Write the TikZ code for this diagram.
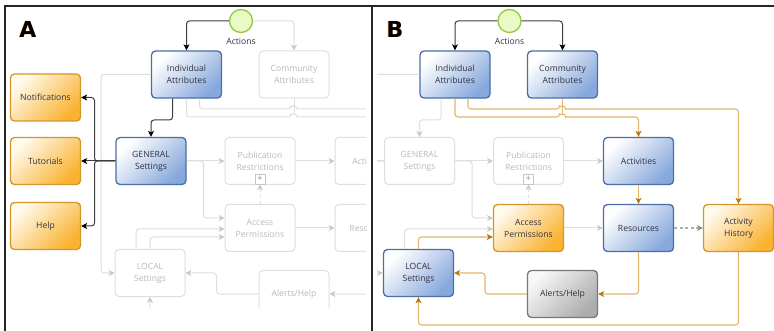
\documentclass[tikz,border=0pt]{standalone}
\usepackage{fontspec}
\setmainfont{Open Sans}
\newfontfamily\labelfont{DejaVu Sans}
\usetikzlibrary{arrows.meta}
\definecolor{bluebd}{RGB}{74,110,165}
\definecolor{bluefl}{RGB}{135,168,220}
\definecolor{orbd}{RGB}{212,150,42}
\definecolor{orfl}{RGB}{250,178,48}
\definecolor{orfltop}{RGB}{255,250,236}
\definecolor{graybd}{RGB}{120,120,120}
\definecolor{grayfl}{RGB}{172,172,172}
\definecolor{fadebd}{RGB}{222,222,222}
\definecolor{fadetip}{RGB}{200,200,200}
\definecolor{fadetx}{RGB}{185,185,185}
\definecolor{orline}{RGB}{226,182,108}
\definecolor{ortip}{RGB}{182,122,20}
\definecolor{blkline}{RGB}{60,60,60}
\definecolor{greenbd}{RGB}{150,200,60}
\definecolor{greenfl}{RGB}{234,250,198}
\definecolor{txtc}{RGB}{50,50,62}
\definecolor{dashc}{RGB}{175,175,175}
\definecolor{dashtip}{RGB}{140,140,140}
\newcommand\boxfont{\fontsize{8.6}{12}\selectfont}
\newcommand\drawflow{%
  \node[actcirc] (act) at (241,21) {};
  \node[lbltext] (actlbl) at (241,41) {Actions};
  \node[bluebox] (ia) at (186.5,74.5) {Individual\\Attributes};
  \node[nodeCA] (ca) at (294,74.5) {Community\\Attributes};
  \node[nodeGS] (gs) at (151,161) {GENERAL\\Settings};
  \node[fadebox] (pr) at (260,161) {Publication\\Restrictions};
  \node[plusbox] (plus) at (260,179) {+};
  \node[nodeAC] (ac) at (370,161) {Activities};
  \node[nodeAP] (ap) at (260,228) {Access\\Permissions};
  \node[nodeRE] (re) at (370,228) {Resources};
  \node[nodeAH] (ah) at (470,228) {Activity\\History};
  \node[nodeLS] (ls) at (150,273) {LOCAL\\Settings};
  \node[nodeAL] (al) at (294,294) {Alerts/Help};
  \node[nodeSide] (not) at (45.5,97.5) {Notifications};
  \node[nodeSide] (tut) at (45.5,161) {Tutorials};
  \node[nodeSide] (hlp) at (45.5,226) {Help};
  \draw[fadeline] (ia.west) -| (101,273) -- (ls.west);
  \draw[fadeline] (gs.east) -- (pr.west);
  \draw[fadeline] (pr.east) -- (ac.west);
  \draw[fadeline] (gs.east) -- (203.5,161) |- (ap.west |- 0,218);
  \draw[fadeline] (ap.east) -- (re.west);
  \draw[fadedash] (ap.north) -- (plus.south);
  \draw[fadeline] (ls.north -| 136,0) |- (ap.west |- 0,229);
  \draw[edgeDash] (re.east) -- (ah.west);
  \draw[edgeGS] (ia.south -| 172.5,0) |- (151,120) -- (gs.north);
  \draw[edgeGS] (gs.west) -- (tut.east);
  \draw[edgeGS] (gs.west) -- (94.5,161) |- (not.east);
  \draw[edgeGS] (gs.west) -- (94.5,161) |- (hlp.east);
  \draw[blackline] (act.west) -| (ia.north);
  \draw[edgeCA] (act.east) -| (ca.north);
  \draw[edgeOr] (ia.south) |- (291,117) [sharp corners] arc[start angle=180,end angle=0,radius=3pt] [rounded corners=3pt] -| (ac.north);
  \draw[edgeOr] (ia.south -| 199.5,0) |- (291,109) [sharp corners] arc[start angle=180,end angle=0,radius=3pt] [rounded corners=3pt] -| (ah.north);
  \draw[edgeOr, -] (ca.south) -- (294,114);
  \draw[edgeOr] (ac.south) -- (re.north);
  \draw[edgeOr] (re.south) |- (al.east);
  \draw[edgeOr] (al.west) -- (216.5,294) |- (ls.east);
  \draw[edgeOr] (ls.north) |- (ap.west |- 0,237);
  \draw[edgeOr] (ah.south) |- (150,325) -- (ls.south);
}
\tikzset{
  boxbase/.style={rectangle, rounded corners=4pt, minimum width=70pt, minimum height=47pt,
    align=center, line width=1.3pt, inner sep=2pt, font=\boxfont},
  bluebox/.style={boxbase, draw=bluebd, top color=white, bottom color=bluefl, shading angle=45, text=txtc},
  orangebox/.style={boxbase, draw=orbd, top color=orfltop, bottom color=orfl, shading angle=45, text=txtc},
  graybox/.style={boxbase, draw=graybd, top color=gray!6, bottom color=grayfl, shading angle=45, text=txtc},
  fadebox/.style={boxbase, draw=fadebd, fill=white, text=fadetx, line width=1pt},
  plusbox/.style={rectangle, draw=gray!45, fill=white, minimum size=10pt, inner sep=0pt, line width=0.8pt,
    text=gray!60, font=\fontsize{9}{9}\selectfont\bfseries},
  actcirc/.style={circle, minimum size=23pt, inner sep=0pt, draw=greenbd, line width=1.3pt, fill=greenfl},
  lbltext/.style={font=\boxfont, text=txtc, inner sep=1pt},
  blackline/.style={draw=blkline, line width=1pt, rounded corners=3pt,
    -{Stealth[length=6pt,width=6pt,inset=1.5pt,color=black]}},
  orangeline/.style={draw=orline, line width=1.1pt, rounded corners=3pt,
    -{Stealth[length=6pt,width=6pt,inset=1.5pt,color=ortip]}},
  fadeline/.style={draw=fadebd, line width=1pt, rounded corners=3pt,
    -{Stealth[length=6pt,width=6pt,inset=2pt,color=fadetip]}},
  fadedash/.style={fadeline, dashed},
  graydash/.style={draw=dashc, line width=1.4pt, dash pattern=on 3pt off 2.5pt,
    -{Stealth[length=6pt,width=6pt,inset=2pt,color=dashtip]}},
  panelA/.style={name prefix=a-,
    nodeCA/.style=fadebox, nodeAC/.style=fadebox, nodeAP/.style=fadebox, nodeRE/.style=fadebox,
    nodeAH/.style=fadebox, nodeLS/.style=fadebox, nodeAL/.style=fadebox, nodeGS/.style=bluebox,
    nodeSide/.style=orangebox, edgeOr/.style=fadeline, edgeCA/.style=fadeline,
    edgeGS/.style=blackline, edgeDash/.style=fadedash},
  panelB/.style={name prefix=b-,
    nodeCA/.style=bluebox, nodeAC/.style=bluebox, nodeAP/.style=orangebox, nodeRE/.style=bluebox,
    nodeAH/.style=orangebox, nodeLS/.style=bluebox, nodeAL/.style=graybox, nodeGS/.style=fadebox,
    nodeSide/.style=fadebox, edgeOr/.style=orangeline, edgeCA/.style=blackline,
    edgeGS/.style=fadeline, edgeDash/.style=graydash},
  panelletter/.style={font=\labelfont\bfseries\fontsize{22}{22}\selectfont, inner sep=0pt}
}
\begin{document}
\begin{tikzpicture}[x=1pt,y=-1pt]
\useasboundingbox (0,0) rectangle (774,331);
\fill[white] (0,0) rectangle (774,331);
\begin{scope}
  \clip (6,7) rectangle (366,307);
  \begin{scope}[panelA]
    \drawflow
  \end{scope}
\end{scope}
\begin{scope}
  \clip (377,7) rectangle (774,331);
  \begin{scope}[xshift=268.5pt, panelB]
    \drawflow
  \end{scope}
\end{scope}
\draw[line width=1.2pt, black!85] (5,331) -- (5,6) -- (774,6);
\draw[line width=1.2pt, black!85] (372,6) -- (372,331);
\node[panelletter, text=orange!80] (lAs) at (27.3,29.5) {A};
\node[panelletter, text=black] (lA) at (28,29) {A};
\node[panelletter, text=orange!80] (lBs) at (394.3,29.5) {B};
\node[panelletter, text=black] (lB) at (395,29) {B};
\end{tikzpicture}
\end{document}
